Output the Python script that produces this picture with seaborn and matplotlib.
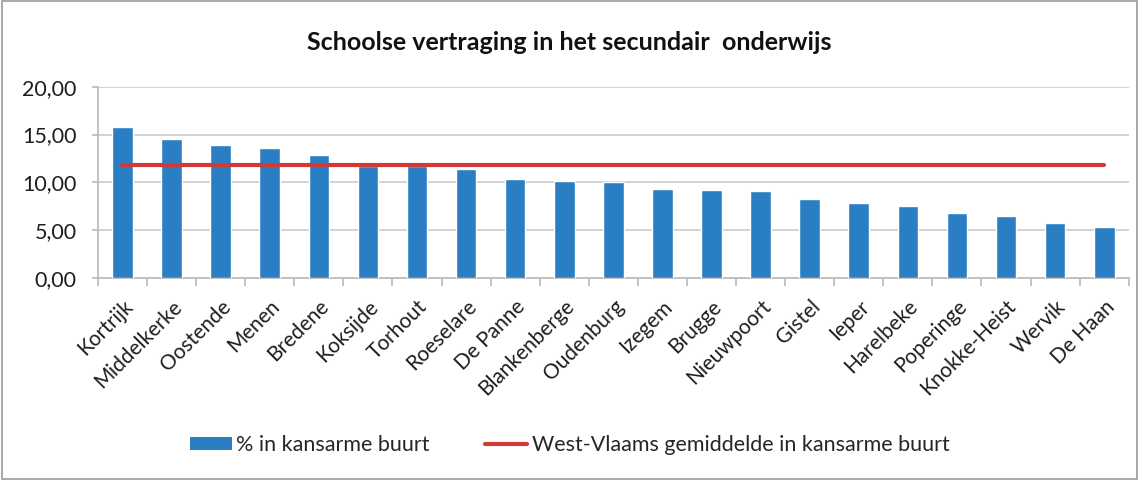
import numpy as np
import pandas as pd
import matplotlib
matplotlib.use("Agg")
import matplotlib.pyplot as plt
import seaborn as sns
from matplotlib.patches import Rectangle, Patch
from matplotlib.lines import Line2D

gemeenten = ["Kortrijk", "Middelkerke", "Oostende", "Menen", "Bredene", "Koksijde",
             "Torhout", "Roeselare", "De Panne", "Blankenberge", "Oudenburg", "Izegem",
             "Brugge", "Nieuwpoort", "Gistel", "Ieper", "Harelbeke", "Poperinge",
             "Knokke-Heist", "Wervik", "De Haan"]
pct_kansarm = [15.76, 14.54, 13.91, 13.57, 12.90, 11.72,
               11.72, 11.38, 10.33, 10.19, 10.05, 9.32,
               9.18, 9.08, 8.31, 7.89, 7.58, 6.78,
               6.54, 5.77, 5.39]
wv_gemiddelde = 11.83
y_ticks = [0, 5, 10, 15, 20]
y_labels = ["0,00", "5,00", "10,00", "15,00", "20,00"]

BLUE = "#2a7fc4"
RED = "#d23a36"
GRID = "#cfcfcf"
TEXT = "#1e1e1e"

sns.set_theme(style="white")
plt.rcParams["font.family"] = ["Lato", "DejaVu Sans"]

fig = plt.figure(figsize=(11.39, 4.80), dpi=100)
ax = fig.add_axes([0.086, 0.4202, 0.905, 0.3992])

df = pd.DataFrame({"gemeente": gemeenten, "pct": pct_kansarm})
sns.barplot(data=df, x="gemeente", y="pct", color=BLUE, saturation=1,
            width=0.42, ax=ax, zorder=3)

pos = np.arange(len(gemeenten))
sns.lineplot(x=pos, y=[wv_gemiddelde] * len(gemeenten), color=RED,
             linewidth=3.0, ax=ax, zorder=4)

ax.set_xlim(-0.5, len(gemeenten) - 0.5)
ax.set_ylim(0, 20)
ax.set_yticks(y_ticks)
ax.set_yticklabels(y_labels, fontsize=15.5, color=TEXT)
ax.set_xticks(pos)
ax.set_xticklabels(gemeenten, rotation=45, ha="right", rotation_mode="anchor",
                   fontsize=15, color=TEXT)
ax.set_xticks(np.arange(-0.5, len(gemeenten) + 0.5, 1.0), minor=True)
ax.set_xlabel("")
ax.set_ylabel("")
ax.yaxis.grid(True, color=GRID, linewidth=1.3, zorder=0)
ax.set_axisbelow(True)
for side in ["top", "right"]:
    ax.spines[side].set_visible(False)
for side in ["left", "bottom"]:
    ax.spines[side].set_color("#bdbdbd")
    ax.spines[side].set_linewidth(1.3)
ax.tick_params(axis="x", which="major", length=0, pad=13)
ax.tick_params(axis="x", which="minor", length=5.5, width=1.3, color="#bdbdbd",
               bottom=True)
ax.tick_params(axis="y", length=4.5, width=1.3, color="#bdbdbd", left=True, pad=11)

fig.text(0.5, 0.912, "Schoolse vertraging in het secundair  onderwijs",
         ha="center", va="center", fontsize=18, fontweight="bold", color="#111111")

handles = [Patch(facecolor=BLUE, edgecolor="none", label="% in kansarme buurt"),
           Line2D([0], [0], color=RED, linewidth=3.0,
                  label="West-Vlaams gemiddelde in kansarme buurt")]
fig.legend(handles=handles, loc="center", bbox_to_anchor=(0.5, 0.073), ncol=2,
           frameon=False, fontsize=15.5, handlelength=1.95, handleheight=0.6,
           handletextpad=0.2, columnspacing=2.6)

fig.patches.append(Rectangle((0.002, 0.003), 0.996, 0.994, transform=fig.transFigure,
                             fill=False, edgecolor="#9a9a9a", linewidth=1.2))

fig.savefig("out.png", dpi=100, facecolor="white")
